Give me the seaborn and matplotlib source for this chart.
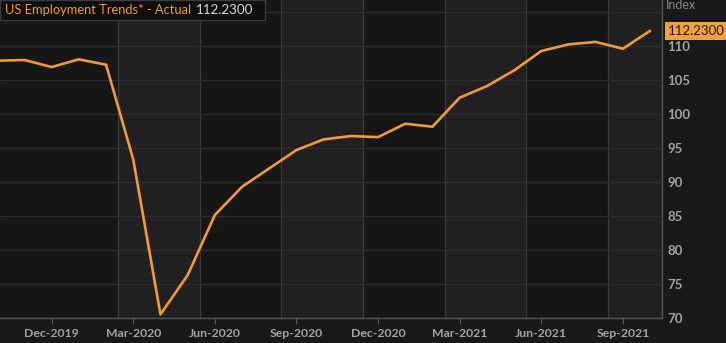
import matplotlib
matplotlib.use("Agg")
import matplotlib.pyplot as plt
import seaborn as sns
import pandas as pd
import numpy as np

# ---- data (monthly, Oct-2019 .. Oct-2021) ----
months = ["Oct-2019", "Nov-2019", "Dec-2019", "Jan-2020", "Feb-2020", "Mar-2020",
          "Apr-2020", "May-2020", "Jun-2020", "Jul-2020", "Aug-2020", "Sep-2020",
          "Oct-2020", "Nov-2020", "Dec-2020", "Jan-2021", "Feb-2021", "Mar-2021",
          "Apr-2021", "May-2021", "Jun-2021", "Jul-2021", "Aug-2021", "Sep-2021",
          "Oct-2021"]
values = [107.84, 107.94, 106.91, 108.04, 107.25, 93.3, 70.54, 76.3, 85.15, 89.3,
          92.0, 94.7, 96.27, 96.76, 96.6, 98.57, 98.13, 102.4, 104.1, 106.4,
          109.26, 110.24, 110.6, 109.6, 112.23]
tick_labels = ["Dec-2019", "Mar-2020", "Jun-2020", "Sep-2020", "Dec-2020",
               "Mar-2021", "Jun-2021", "Sep-2021"]
y_ticks = [70, 75, 80, 85, 90, 95, 100, 105, 110, 115]
title = "US Employment Trends* - Actual"
last_value_label = "112.2300"

df = pd.DataFrame({"month": months, "value": values})
df["idx"] = np.arange(len(df))

sns.set_theme(style="dark")
plt.rcParams["font.family"] = ["Lato", "DejaVu Sans"]

FIG_BG = "#181818"
AX_BG = "#161616"
BAND = "#211f22"
ORANGE = "#f09a3a"
GRID_H = "#2c2c2c"
GRID_V = "#3a3a3a"
TXT = "#a3a3a3"

fig = plt.figure(figsize=(7.26, 3.43), dpi=100, facecolor=FIG_BG)
ax = fig.add_axes([0.0, 25 / 343, 662 / 726, 318 / 343])
ax.set_facecolor(AX_BG)

x_left, x_right = 0.1, 24.44
# alternating background bands and vertical grid lines (quarterly, offset)
grid_pos = np.arange(4.45, x_right, 3.0)
for k, g in enumerate(grid_pos):
    if k % 2 == 0:
        ax.axvspan(g, min(g + 3.0, x_right), color=BAND, zorder=0, lw=0)
    ax.axvline(g, color=GRID_V, lw=0.9, zorder=1)
for yt in y_ticks:
    ax.axhline(yt, color=GRID_H, lw=1.0, zorder=1)

sns.lineplot(data=df, x="idx", y="value", ax=ax, color=ORANGE, lw=1.9, zorder=3)

ax.set_xlim(x_left, x_right)
ax.set_ylim(70, 70 + 318 / 6.8)

tick_idx = [months.index(t) for t in tick_labels]
ax.set_xticks(tick_idx)
ax.set_xticklabels(tick_labels, color=TXT, fontsize=8.8, fontweight="bold")
ax.tick_params(axis="x", colors="#555555", length=4, width=0.8, pad=3,
               labelcolor=TXT, bottom=True)

ax.yaxis.tick_right()
ax.set_yticks(y_ticks)
ax.set_yticklabels([str(v) if v <= 110 else "" for v in y_ticks],
                   color=TXT, fontsize=9.5, fontweight="bold")
ax.tick_params(axis="y", length=0, pad=4, labelcolor=TXT)
ax.set_xlabel("")
ax.set_ylabel("")
ax.grid(False)

for s in ["top", "left"]:
    ax.spines[s].set_visible(False)
for s in ["right", "bottom"]:
    ax.spines[s].set_visible(True)
    ax.spines[s].set_color("#555555")
    ax.spines[s].set_linewidth(1.0)

# "Index" unit label
fig.text(666 / 726, 1 - 5 / 343, "Index", color="#8a8a8a", fontsize=9,
         ha="left", va="center")

# last value tag
ax.annotate(last_value_label, xy=(1.0, values[-1]), xycoords=("axes fraction", "data"),
            xytext=(4, 0), textcoords="offset points", ha="left", va="center",
            fontsize=9.5, color="#1a1a1a",
            bbox=dict(boxstyle="square,pad=0.22", fc="#f4a13c", ec="none"))

# title box
fig.patches.append(matplotlib.patches.Rectangle((0, 1 - 20 / 343), 265 / 726, 20 / 343,
                   transform=fig.transFigure, fc="#0e0e0e", ec="#3a3a3a", lw=1.0,
                   zorder=5))
t1 = fig.text(5 / 726, 1 - 10 / 343, title, color=ORANGE, fontsize=9.3,
              ha="left", va="center", zorder=6)
fig.canvas.draw()
bb = t1.get_window_extent()
fig.text((bb.x1 + 5) / 726, 1 - 10 / 343, last_value_label, color="#d8d8d8",
         fontsize=9.6, ha="left", va="center", zorder=6)

fig.savefig("out.png", dpi=100, facecolor=FIG_BG)
